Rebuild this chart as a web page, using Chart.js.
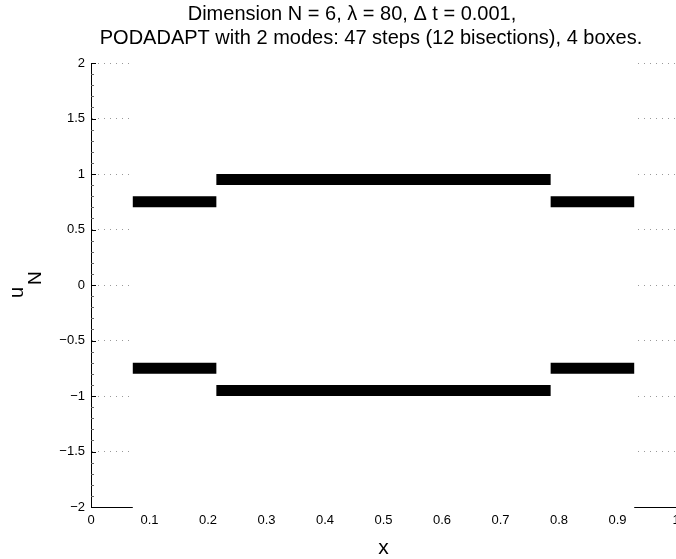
<!DOCTYPE html>
<html>
<head>
<meta charset="utf-8">
<script src="https://cdn.jsdelivr.net/npm/chart.js@4/dist/chart.umd.min.js"></script>
<style>
    body { margin: 0; background: #fff; }
    canvas { display: block; }
</style>
</head>
<body>
<canvas id="uChart" width="676" height="559"></canvas>
<script>
// node positions and the two branches of u_N
const nodeX = [1 / 7, 2 / 7, 3 / 7, 4 / 7, 5 / 7, 6 / 7];
const halfWidth = 1 / 14;
const upperValues = [0.75, 0.95, 0.95, 0.95, 0.95, 0.75];
const lowerValues = [-0.75, -0.95, -0.95, -0.95, -0.95, -0.75];
const coverRange = [1 / 14, 13 / 14];

const xTicks = [0, 0.1, 0.2, 0.3, 0.4, 0.5, 0.6, 0.7, 0.8, 0.9, 1];
const xTickLabels = ["0", "0.1", "0.2", "0.3", "0.4", "0.5", "0.6", "0.7", "0.8", "0.9", "1"];
const yTicks = [-2, -1.5, -1, -0.5, 0, 0.5, 1, 1.5, 2];
const yTickLabels = ["\u22122", "\u22121.5", "\u22121", "\u22120.5", "0", "0.5", "1", "1.5", "2"];

const titleLines = [
    "Dimension N = 6, \u03bb = 80, \u0394 t = 0.001,",
    "PODADAPT with 2 modes: 47 steps (12 bisections), 4 boxes."
];

const FONT = '"Liberation Sans", Arial, Helvetica, sans-serif';
Chart.defaults.font.family = FONT;
Chart.defaults.color = "#000";

// merge neighbouring nodes with the same value into one segment
function toSegments(values) {
    const pts = [];
    let i = 0;
    while (i < values.length) {
        let j = i;
        while (j + 1 < values.length && values[j + 1] === values[i]) j++;
        pts.push({ x: nodeX[i] - halfWidth, y: values[i] });
        pts.push({ x: nodeX[j] + halfWidth, y: values[i] });
        pts.push({ x: nodeX[j] + halfWidth, y: null });
        i = j + 1;
    }
    return pts;
}

const coverPlugin = {
    id: "cover",
    beforeDatasetsDraw(chart) {
        const { ctx, chartArea, scales } = chart;
        const x1 = scales.x.getPixelForValue(coverRange[0]);
        const x2 = scales.x.getPixelForValue(coverRange[1]);
        ctx.save();
        ctx.fillStyle = "#fff";
        ctx.fillRect(x1, chartArea.top - 2, x2 - x1, chartArea.bottom - chartArea.top + 4);
        ctx.restore();
    }
};

const decorPlugin = {
    id: "decor",
    afterDraw(chart) {
        const { ctx, chartArea, scales } = chart;
        const y = scales.y;
        ctx.save();
        // inward ticks on the left axis
        ctx.strokeStyle = "#000";
        ctx.lineWidth = 1;
        yTicks.forEach(v => {
            const py = Math.round(y.getPixelForValue(v)) + 0.5;
            ctx.beginPath();
            ctx.moveTo(chartArea.left, py);
            ctx.lineTo(chartArea.left + 5, py);
            ctx.stroke();
        });
        ctx.strokeStyle = "#666";
        for (let k = -20; k <= 20; k++) {
            if (k % 5 === 0) continue;
            const py = Math.round(y.getPixelForValue(k / 10)) + 0.5;
            ctx.beginPath();
            ctx.moveTo(chartArea.left, py);
            ctx.lineTo(chartArea.left + 3, py);
            ctx.stroke();
        }

        // title (second line has leading blanks in the original)
        ctx.fillStyle = "#000";
        ctx.textAlign = "center";
        ctx.textBaseline = "alphabetic";
        ctx.font = "20px " + FONT;
        ctx.fillText(titleLines[0], 352, 20);
        ctx.fillText(titleLines[1], 371, 44);

        // x label
        ctx.font = "21px " + FONT;
        ctx.fillText("x", (chartArea.left + chartArea.right) / 2, 554);

        // y label u_N, rotated
        ctx.translate(23, 298);
        ctx.rotate(-Math.PI / 2);
        ctx.textAlign = "left";
        ctx.font = "20px " + FONT;
        ctx.fillText("u", 0, 0);
        const uw = ctx.measureText("u").width;
        ctx.font = "19px " + FONT;
        ctx.fillText("N", uw + 2, 18);
        ctx.restore();
    }
};

const ctx = document.getElementById("uChart").getContext("2d");
new Chart(ctx, {
    type: "line",
    data: {
        datasets: [
            {
                data: toSegments(upperValues),
                borderColor: "#000",
                borderWidth: 11,
                borderCapStyle: "butt",
                pointRadius: 0,
                spanGaps: false,
                tension: 0
            },
            {
                data: toSegments(lowerValues),
                borderColor: "#000",
                borderWidth: 11,
                borderCapStyle: "butt",
                pointRadius: 0,
                spanGaps: false,
                tension: 0
            }
        ]
    },
    options: {
        responsive: false,
        animation: false,
        events: [],
        layout: { padding: { top: 63, left: 0, right: 0, bottom: 0 } },
        plugins: {
            legend: { display: false },
            tooltip: { enabled: false }
        },
        scales: {
            x: {
                type: "linear",
                min: 0,
                max: 1,
                afterBuildTicks: s => { s.ticks = xTicks.map(v => ({ value: v })); },
                afterFit: s => { s.height = 52; s.paddingLeft = 0; s.paddingRight = 0; },
                ticks: {
                    autoSkip: false,
                    maxRotation: 0,
                    padding: 6,
                    font: { size: 13 },
                    callback: (v, i) => xTickLabels[i]
                },
                grid: { display: false, drawTicks: false },
                border: { display: true, color: "#000", width: 1 }
            },
            y: {
                type: "linear",
                min: -2,
                max: 2,
                afterBuildTicks: s => { s.ticks = yTicks.map(v => ({ value: v })); },
                afterFit: s => { s.width = 91; s.paddingTop = 0; s.paddingBottom = 0; },
                ticks: {
                    autoSkip: false,
                    padding: 6,
                    font: { size: 13 },
                    callback: (v, i) => yTickLabels[i]
                },
                grid: { color: "#999", lineWidth: 1, drawTicks: false },
                border: { display: true, color: "#000", width: 1, dash: [1, 5] }
            }
        }
    },
    plugins: [coverPlugin, decorPlugin]
});
</script>
</body>
</html>
